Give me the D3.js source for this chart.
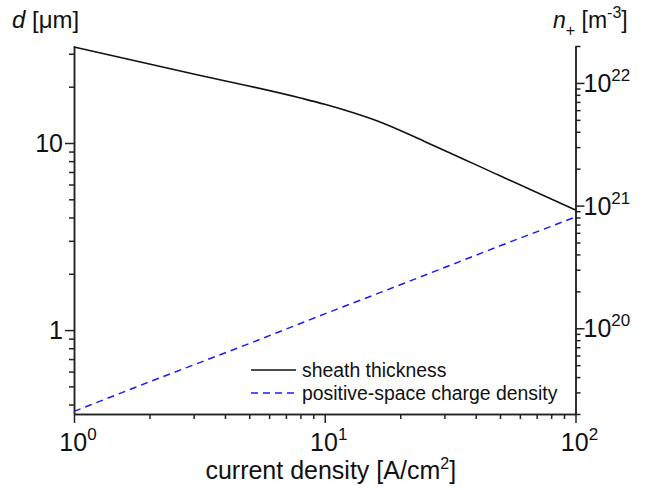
<!DOCTYPE html>
<html>
<head>
<meta charset="utf-8">
<script src="https://cdn.jsdelivr.net/npm/d3@7"></script>
<style>
  body { margin: 0; background: #fff; }
  text { font-family: "Liberation Sans", Arial, sans-serif; fill: #111; }
</style>
</head>
<body>
<div id="container"></div>
<script>
let w = 650;
let h = 490;

// current density [A/cm2]
let currentDensity = [1, 3, 8, 10, 13, 17, 25, 50, 100];
// sheath thickness d [um]
let sheathThickness = [32.6, 23.4, 17.4, 16.1, 14.5, 12.8, 10.2, 6.68, 4.38];
// positive-space charge density n+ [m^-3]
let chargeJ = [1, 2, 5, 10, 20, 50, 100];
let chargeDensity = [2.1e19, 3.66e19, 7.5e19, 1.31e20, 2.26e20, 4.7e20, 8.07e20];

// ticks
let xMajor = [1, 10, 100];
let xMajorExp = ["0", "1", "2"];
let xMinor = [2, 3, 4, 5, 6, 7, 8, 9, 20, 30, 40, 50, 60, 70, 80, 90];
let yLMajor = [1, 10];
let yLMinor = [0.4, 0.5, 0.6, 0.7, 0.8, 0.9, 2, 3, 4, 5, 6, 7, 8, 9, 20, 30];
let yRMajor = [1e20, 1e21, 1e22];
let yRMajorExp = ["20", "21", "22"];
let yRMinor = [2e19, 3e19, 4e19, 5e19, 6e19, 7e19, 8e19, 9e19,
               2e20, 3e20, 4e20, 5e20, 6e20, 7e20, 8e20, 9e20,
               2e21, 3e21, 4e21, 5e21, 6e21, 7e21, 8e21, 9e21, 2e22];

let legendLabels = ["sheath thickness", "positive-space charge density"];

let padLeft = 74, padRight = 575.5, padTop = 46, padBottom = 414;

let viz = d3.select("#container")
  .append("svg")
    .attr("width", w)
    .attr("height", h)
    .style("background-color", "white");

let xScale = d3.scaleLog().domain([1, 100]).range([padLeft, padRight]);
let yLeft = d3.scaleLog().domain([0.356, 33]).range([padBottom, padTop]);
let yRight = d3.scaleLog().domain([2e19, 2e22]).range([padBottom, padTop]);

let axisColor = "#222";

function styleAxis(g){
  g.selectAll("path").attr("stroke", axisColor).attr("stroke-width", 1.5);
  g.selectAll("line").attr("stroke", axisColor).attr("stroke-width", 1.5);
  g.selectAll("text").remove();
}

// bottom axis
viz.append("g")
  .attr("transform", "translate(0," + padBottom + ")")
  .call(d3.axisBottom(xScale).tickValues(xMinor).tickSize(5).tickSizeOuter(0))
  .call(styleAxis);
viz.append("g")
  .attr("transform", "translate(0," + padBottom + ")")
  .call(d3.axisBottom(xScale).tickValues(xMajor).tickSize(9).tickSizeOuter(0))
  .call(styleAxis);

// left axis
viz.append("g")
  .attr("transform", "translate(" + padLeft + ",0)")
  .call(d3.axisLeft(yLeft).tickValues(yLMinor).tickSize(5).tickSizeOuter(0))
  .call(styleAxis);
viz.append("g")
  .attr("transform", "translate(" + padLeft + ",0)")
  .call(d3.axisLeft(yLeft).tickValues(yLMajor).tickSize(9).tickSizeOuter(0))
  .call(styleAxis);

// right axis
viz.append("g")
  .attr("transform", "translate(" + padRight + ",0)")
  .call(d3.axisRight(yRight).tickValues(yRMinor).tickSize(5).tickSizeOuter(0))
  .call(styleAxis);
viz.append("g")
  .attr("transform", "translate(" + padRight + ",0)")
  .call(d3.axisRight(yRight).tickValues(yRMajor).tickSize(9).tickSizeOuter(0))
  .call(styleAxis);

// x tick labels
xMajor.forEach(function(v, i){
  let t = viz.append("text")
    .attr("x", xScale(v) + 4)
    .attr("y", 451)
    .attr("text-anchor", "middle")
    .style("font-size", "25px");
  t.append("tspan").text("10");
  t.append("tspan").attr("dy", -11).style("font-size", "17px").text(xMajorExp[i]);
});

// left tick labels
yLMajor.forEach(function(v){
  viz.append("text")
    .attr("x", padLeft - 11)
    .attr("y", yLeft(v) + 9)
    .attr("text-anchor", "end")
    .style("font-size", "25px")
    .text(d3.format("d")(v));
});

// right tick labels
yRMajor.forEach(function(v, i){
  let t = viz.append("text")
    .attr("x", padRight + 8)
    .attr("y", yRight(v) + 9)
    .style("font-size", "25px");
  t.append("tspan").text("10");
  t.append("tspan").attr("dy", -11).style("font-size", "17px").text(yRMajorExp[i]);
});

// axis titles
let xt = viz.append("text")
  .attr("x", (padLeft + padRight) / 2 + 6)
  .attr("y", 479)
  .attr("text-anchor", "middle")
  .style("font-size", "25px");
xt.append("tspan").text("current density [A/cm");
xt.append("tspan").attr("dy", -10).style("font-size", "16px").text("2");
xt.append("tspan").attr("dy", 10).text("]");

let lt = viz.append("text")
  .attr("x", 12)
  .attr("y", 28)
  .style("font-size", "24px");
lt.append("tspan").style("font-style", "italic").text("d");
lt.append("tspan").text(" [\u03bcm]");

let rt = viz.append("text")
  .attr("x", 553)
  .attr("y", 28)
  .style("font-size", "23px");
rt.append("tspan").style("font-style", "italic").text("n");
rt.append("tspan").attr("dy", 8).style("font-size", "16px").text("+");
rt.append("tspan").attr("dy", -8).text(" [m");
rt.append("tspan").attr("dy", -10).style("font-size", "16px").text("-3");
rt.append("tspan").attr("dy", 10).text("]");

// data lines
let sheathData = currentDensity.map(function(j, i){ return {x: j, y: sheathThickness[i]}; });
let chargeData = chargeJ.map(function(j, i){ return {x: j, y: chargeDensity[i]}; });

let sheathLine = d3.line()
  .x(function(d){ return xScale(d.x); })
  .y(function(d){ return yLeft(d.y); })
  .curve(d3.curveMonotoneX);
let chargeLine = d3.line()
  .x(function(d){ return xScale(d.x); })
  .y(function(d){ return yRight(d.y); });

viz.append("path")
  .datum(sheathData)
  .attr("d", sheathLine)
  .attr("fill", "none")
  .attr("stroke", "#111")
  .attr("stroke-width", 1.6);

viz.append("path")
  .datum(chargeData)
  .attr("d", chargeLine)
  .attr("fill", "none")
  .attr("stroke", "#1a1aff")
  .attr("stroke-width", 1.5)
  .attr("stroke-dasharray", "7,5");

// legend
let legendStyles = [
  {stroke: "#111", dash: null},
  {stroke: "#1a1aff", dash: "7,5"}
];
legendLabels.forEach(function(label, i){
  let ly = 370 + i * 23;
  viz.append("line")
    .attr("x1", 251).attr("x2", 296)
    .attr("y1", ly).attr("y2", ly)
    .attr("stroke", legendStyles[i].stroke)
    .attr("stroke-width", 1.5)
    .attr("stroke-dasharray", legendStyles[i].dash);
  viz.append("text")
    .attr("x", 302)
    .attr("y", ly + 7)
    .style("font-size", "19.4px")
    .text(label);
});
</script>
</body>
</html>
